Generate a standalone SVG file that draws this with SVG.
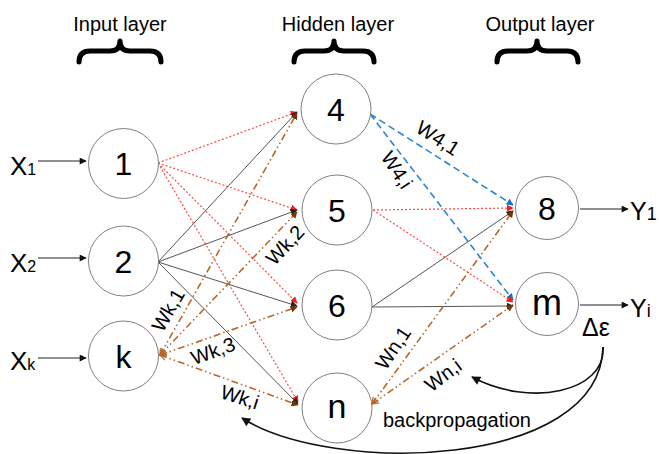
<svg xmlns="http://www.w3.org/2000/svg" width="659" height="454" viewBox="0 0 659 454">
<style>
text{font-family:"Liberation Sans",Arial,sans-serif;fill:#000}
.title{font-size:20px;text-anchor:middle}
.node circle{fill:#fff;stroke:#808080;stroke-width:1}
.node text{font-size:32px;text-anchor:middle}
.brace{fill:none;stroke:#000;stroke-width:5;stroke-linejoin:round;stroke-linecap:round}
.red{stroke:#ff4a4a;stroke-width:1.2;stroke-dasharray:2 2;fill:none;marker-end:url(#aRed)}
.gray{stroke:#555;stroke-width:1;fill:none;marker-end:url(#aBlk)}
.blue{stroke:#2a86d6;stroke-width:1.6;stroke-dasharray:7 4;fill:none;marker-end:url(#aBlue)}
.brown{stroke:#b8662a;stroke-width:1.6;stroke-dasharray:7 3 1.5 3 1.5 3;fill:none;marker-end:url(#aBrn);marker-start:url(#oBrn)}
.io{stroke:#222;stroke-width:1.2;fill:none;marker-end:url(#aIO)}
.bp{stroke:#111;stroke-width:1.6;fill:none;marker-end:url(#aBP)}
.w{font-size:20px;text-anchor:middle}
.lbl{font-size:26px}
</style>
<defs>
<marker id="aRed" viewBox="0 0 10 10" refX="9" refY="5" markerWidth="7" markerHeight="7" markerUnits="userSpaceOnUse" orient="auto"><path d="M0,0 L10,5 L0,10 z" fill="#ff1a1a"/></marker>
<marker id="aBlk" viewBox="0 0 10 10" refX="9" refY="5" markerWidth="7" markerHeight="7" markerUnits="userSpaceOnUse" orient="auto"><path d="M0,0 L10,5 L0,10 z" fill="#222"/></marker>
<marker id="aBlue" viewBox="0 0 10 10" refX="9" refY="5" markerWidth="7" markerHeight="7" markerUnits="userSpaceOnUse" orient="auto"><path d="M0,0 L10,5 L0,10 z" fill="#1a6fd0"/></marker>
<marker id="aBrn" viewBox="0 0 10 10" refX="9" refY="5" markerWidth="7" markerHeight="7" markerUnits="userSpaceOnUse" orient="auto"><path d="M0,0 L10,5 L0,10 z" fill="#7a3208"/></marker>
<marker id="oBrn" viewBox="0 0 10 10" refX="9" refY="5" markerWidth="8" markerHeight="8" markerUnits="userSpaceOnUse" orient="auto-start-reverse"><path d="M1,1 L9,5 L1,9" fill="none" stroke="#b8662a" stroke-width="1.5"/></marker>
<marker id="aIO" viewBox="0 0 10 10" refX="9" refY="5" markerWidth="8" markerHeight="7" markerUnits="userSpaceOnUse" orient="auto"><path d="M0,0 L10,5 L0,10 z" fill="#111"/></marker>
<marker id="aBP" viewBox="0 0 10 10" refX="9" refY="5" markerWidth="10" markerHeight="9" markerUnits="userSpaceOnUse" orient="auto"><path d="M0,0 L10,5 L0,10 z" fill="#111"/></marker>
</defs>
<rect width="659" height="454" fill="#fff"/>

<g id="titles">
<text class="title" x="120" y="31">Input layer</text>
<text class="title" x="338" y="31">Hidden layer</text>
<text class="title" x="540" y="31">Output layer</text>
<path class="brace" d="M79,62 Q79,51 90,51 L110,51 Q120,51 120,41 Q120,51 130,51 L150,51 Q161,51 161,62"/>
<path class="brace" d="M294,62 Q294,51 305,51 L324,51 Q334,51 334,41 Q334,51 344,51 L363,51 Q374,51 374,62"/>
<path class="brace" d="M497,62 Q497,51 508,51 L527,51 Q537,51 537,41 Q537,51 547,51 L567,51 Q578,51 578,62"/>
</g>

<g id="connectors">
<line class="red" x1="158" y1="163" x2="297" y2="112"/>
<line class="red" x1="158" y1="163" x2="297" y2="210"/>
<line class="red" x1="158" y1="163" x2="297" y2="303"/>
<line class="red" x1="158" y1="163" x2="298" y2="402"/>
<line class="gray" x1="158" y1="262" x2="297" y2="112"/>
<line class="gray" x1="158" y1="262" x2="297" y2="210"/>
<line class="gray" x1="158" y1="262" x2="297" y2="306"/>
<line class="gray" x1="158" y1="262" x2="298" y2="404"/>
<line class="brown" x1="160" y1="355" x2="297" y2="113"/>
<line class="brown" x1="160" y1="355" x2="297" y2="212"/>
<line class="brown" x1="160" y1="355" x2="297" y2="307"/>
<line class="brown" x1="160" y1="355" x2="298" y2="405"/>
<line class="blue" x1="370" y1="114" x2="513" y2="205"/>
<line class="blue" x1="370" y1="114" x2="513" y2="300"/>
<line class="red" x1="373" y1="210" x2="513" y2="208"/>
<line class="red" x1="373" y1="210" x2="513" y2="302"/>
<line class="gray" x1="372" y1="307" x2="513" y2="211"/>
<line class="gray" x1="372" y1="307" x2="513" y2="306"/>
<line class="brown" x1="372" y1="404" x2="513" y2="211"/>
<line class="brown" x1="372" y1="404" x2="513" y2="305"/>
<line class="io" x1="38" y1="161" x2="86" y2="161"/>
<line class="io" x1="38" y1="258" x2="86" y2="258"/>
<line class="io" x1="38" y1="358" x2="86" y2="358"/>
<line class="io" x1="580" y1="209" x2="628" y2="209"/>
<line class="io" x1="580" y1="305" x2="628" y2="305"/>
<path class="bp" d="M603,347 C606,392 530,408 472,377"/>
<path class="bp" d="M603,347 C600,470 330,475 242,418"/>
</g>

<g id="node-1" class="node"><circle cx="123.5" cy="163.5" r="35"/><text x="123.5" y="175">1</text></g>
<g id="node-2" class="node"><circle cx="123.5" cy="261" r="35"/><text x="123.5" y="273">2</text></g>
<g id="node-k" class="node"><circle cx="123.5" cy="356" r="35"/><text x="123.5" y="368">k</text></g>
<g id="node-4" class="node"><circle cx="336" cy="109" r="35"/><text x="336" y="121">4</text></g>
<g id="node-5" class="node"><circle cx="337" cy="210" r="35"/><text x="337" y="222">5</text></g>
<g id="node-6" class="node"><circle cx="337" cy="305" r="35"/><text x="337" y="317">6</text></g>
<g id="node-n" class="node"><circle cx="337" cy="408" r="35"/><text x="337" y="418" style="font-size:34px">n</text></g>
<g id="node-8" class="node"><circle cx="547" cy="208" r="31.5"/><text x="547" y="220">8</text></g>
<g id="node-m" class="node"><circle cx="547" cy="304" r="31.5"/><text x="547" y="315" style="font-size:36px">m</text></g>

<g id="labels">
<text class="lbl" x="10" y="175">X<tspan font-size="16">1</tspan></text>
<text class="lbl" x="10" y="272">X<tspan font-size="16">2</tspan></text>
<text class="lbl" x="10" y="370">X<tspan font-size="16">k</tspan></text>
<text class="lbl" x="630" y="220" style="font-size:25px">Y<tspan font-size="18">1</tspan></text>
<text class="lbl" x="630" y="317" style="font-size:25px">Y<tspan font-size="18">i</tspan></text>
<text x="582" y="336" style="font-size:25px">Δε</text>
<text x="383" y="427" style="font-size:20px">backpropagation</text>
<text class="w" transform="translate(168,310) rotate(-60)" y="7">Wk,1</text>
<text class="w" transform="translate(285,245) rotate(-47)" y="7">Wk,2</text>
<text class="w" transform="translate(213,351) rotate(-20)" y="7">Wk,3</text>
<text class="w" transform="translate(240,397) rotate(18)" y="7">Wk,i</text>
<text class="w" transform="translate(438,138) rotate(33)" y="7">W4,1</text>
<text class="w" transform="translate(397,170) rotate(57)" y="7">W4,i</text>
<text class="w" transform="translate(393,348) rotate(-56)" y="7">Wn,1</text>
<text class="w" transform="translate(443,375) rotate(-37)" y="7">Wn,i</text>
</g>
</svg>
